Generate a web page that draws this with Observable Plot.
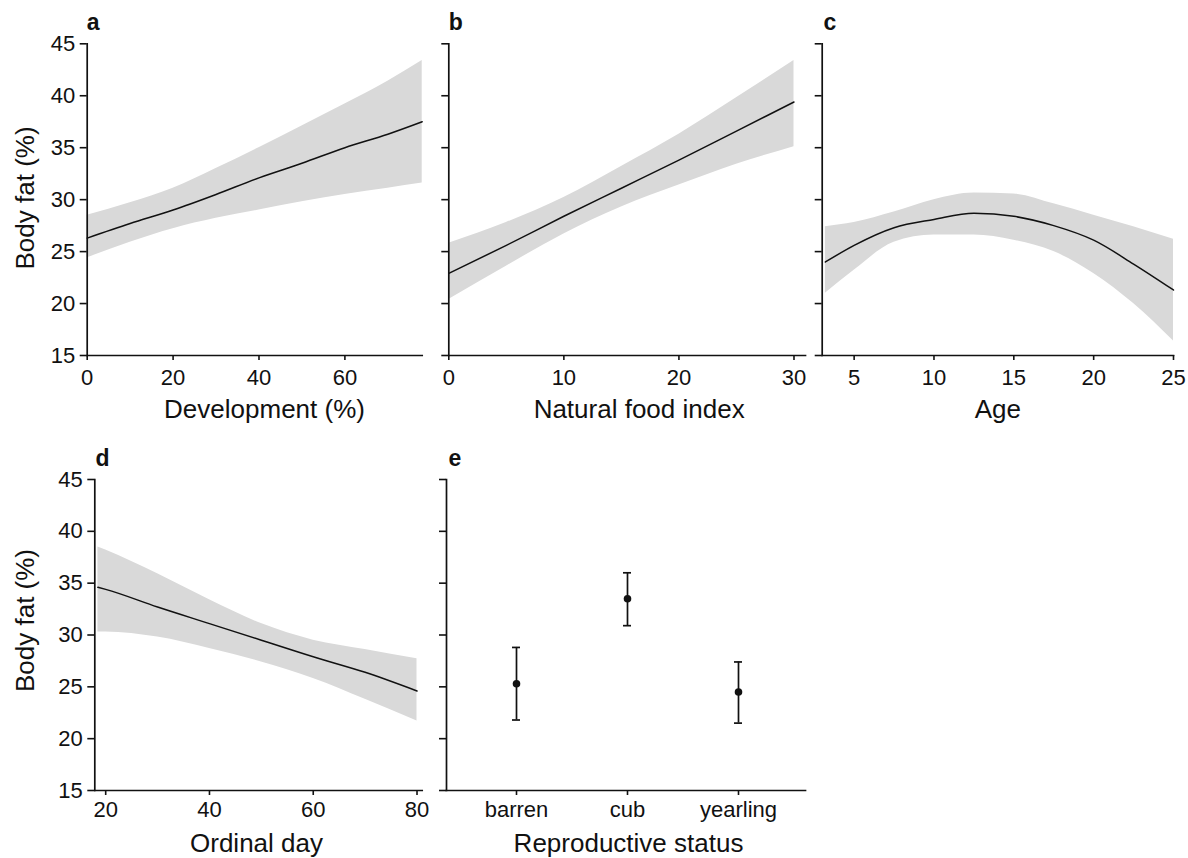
<!DOCTYPE html>
<html><head><meta charset="utf-8">
<script src="https://cdn.jsdelivr.net/npm/d3@7"></script>
<script src="https://cdn.jsdelivr.net/npm/@observablehq/plot@0.6"></script>
<style>
html,body{margin:0;padding:0;background:#fff;}
#fig{position:relative;width:1188px;height:858px;overflow:hidden;background:#fff;}
#fig > svg{position:absolute;}
g[aria-label="title"] text{letter-spacing:0.5px;}
</style></head><body><div id="fig"></div>
<script>
// ---------- data ----------
const yTicks = [15, 20, 25, 30, 35, 40, 45];
const yLabel = "Body fat (%)";

// a: Development (%)
const devX   = [0, 10, 20, 30, 40, 50, 60, 70, 78];
const devFit = [26.3, 27.7, 29.0, 30.5, 32.1, 33.5, 35.0, 36.3, 37.5];
const devLo  = [24.4, 25.9, 27.2, 28.2, 29.0, 29.8, 30.5, 31.1, 31.6];
const devHi  = [28.5, 29.7, 31.1, 33.0, 35.0, 37.1, 39.2, 41.4, 43.4];
const devTicks = [0, 20, 40, 60];

// b: Natural food index
const foodX   = [0, 5, 10, 15, 20, 25, 30];
const foodFit = [22.9, 25.6, 28.4, 31.1, 33.8, 36.6, 39.4];
const foodLo  = [20.4, 23.6, 26.7, 29.3, 31.4, 33.4, 35.1];
const foodHi  = [25.8, 27.8, 30.2, 33.2, 36.3, 39.8, 43.4];
const foodTicks = [0, 10, 20, 30];

// c: Age
const ageX   = [3.2, 5, 7.5, 10, 12.5, 15, 17.5, 20, 22.5, 25];
const ageFit = [24.0, 25.6, 27.3, 28.1, 28.7, 28.4, 27.5, 26.1, 23.8, 21.3];
const ageLo  = [21.0, 23.2, 25.9, 26.6, 26.6, 26.1, 25.0, 22.9, 20.0, 16.4];
const ageHi  = [27.4, 27.8, 28.8, 30.0, 30.65, 30.55, 29.6, 28.5, 27.4, 26.2];
const ageTicks = [5, 10, 15, 20, 25];

// d: Ordinal day
const dayX   = [18.5, 20, 30, 40, 50, 60, 70, 80];
const dayFit = [34.6, 34.4, 32.7, 31.1, 29.5, 27.9, 26.4, 24.6];
const dayLo  = [30.3, 30.3, 29.8, 28.7, 27.4, 25.8, 23.8, 21.7];
const dayHi  = [38.5, 38.2, 35.9, 33.4, 31.1, 29.5, 28.6, 27.7];
const dayTicks = [20, 40, 60, 80];

// e: Reproductive status
const statusCats = ["barren", "cub", "yearling"];
const statusMean = [25.3, 33.5, 24.5];
const statusLo   = [21.8, 30.9, 21.5];
const statusHi   = [28.8, 36.0, 27.4];

// ---------- helpers ----------
const FONT = '"Liberation Sans", Arial, Helvetica, sans-serif';
const BAND = "#d9d9d9";
const INK = "#111";

function toRows(xs, fit, lo, hi) {
  return xs.map((x, i) => ({x, fit: fit[i], lo: lo[i], hi: hi[i]}));
}
function curveMarks(rows) {
  return [
    Plot.areaY(rows, {x: "x", y1: "lo", y2: "hi", fill: BAND, curve: "monotone-x"}),
    Plot.lineY(rows, {x: "x", y: "fit", stroke: INK, strokeWidth: 1.5, curve: "monotone-x"})
  ];
}

function makePanel(cfg) {
  const marks = [
    ...cfg.marks,
    Plot.frame({anchor: "left", stroke: INK, strokeWidth: 1.7}),
    Plot.frame({anchor: "bottom", stroke: INK, strokeWidth: 1.7}),
    Plot.axisY({ticks: yTicks, tickSize: 7, tickPadding: 5, fontSize: 22, strokeWidth: 1.6,
      tickFormat: cfg.yLabels ? (d => String(d)) : (() => ""), label: null}),
    Plot.axisX({ticks: cfg.xTicks, tickSize: 5, tickPadding: cfg.tickPad, fontSize: 22, strokeWidth: 1.6, label: null}),
    Plot.text([cfg.letter], {frameAnchor: "top-left", text: d => d, dx: cfg.letterDx, dy: -21,
      fontSize: 23, fontWeight: "bold", textAnchor: "start", lineAnchor: "middle", fill: INK}),
    Plot.text([cfg.title], {frameAnchor: "bottom", text: d => d, dx: cfg.titleDx, dy: cfg.titleDy,
      fontSize: 26, textAnchor: "middle", lineAnchor: "middle", fill: INK, ariaLabel: "title"})
  ];
  if (cfg.yTitle) {
    marks.push(Plot.text([yLabel], {frameAnchor: "left", text: d => d, rotate: -90,
      dx: cfg.yTitleDx, dy: cfg.yTitleDy, fontSize: 26, textAnchor: "middle", lineAnchor: "middle",
      fill: INK, ariaLabel: "title"}));
  }
  const svg = Plot.plot({
    width: cfg.width, height: cfg.height,
    marginLeft: cfg.mL, marginRight: cfg.mR, marginTop: cfg.mT, marginBottom: cfg.mB,
    x: cfg.x,
    y: {domain: [15, 45]},
    style: {fontFamily: FONT, color: INK, background: "transparent", overflow: "visible"},
    marks
  });
  svg.style.left = cfg.left + "px";
  svg.style.top = cfg.top + "px";
  document.getElementById("fig").append(svg);
}

const TOP = {top: 0, height: 430, mT: 43.3, mB: 75, tickPad: 8.4, titleDy: 53.7};
const BOT = {top: 430, height: 428, mT: 49, mB: 68, tickPad: 6, titleDy: 52.7};

makePanel({...TOP, left: 0, width: 440, mL: 86.7, mR: 18.3,
  x: {domain: [0, 78]}, xTicks: devTicks, yLabels: true, yTitle: true, yTitleDx: -62, yTitleDy: -1.7,
  letter: "a", letterDx: -0.5, title: "Development (%)", titleDx: 9.8,
  marks: curveMarks(toRows(devX, devFit, devLo, devHi))});

makePanel({...TOP, left: 440, width: 372, mL: 8.3, mR: 7,
  x: {domain: [0, 31]}, xTicks: foodTicks, yLabels: false,
  letter: "b", letterDx: 0, title: "Natural food index", titleDx: 12,
  marks: curveMarks(toRows(foodX, foodFit, foodLo, foodHi))});

makePanel({...TOP, left: 812, width: 376, mL: 9.7, mR: 15,
  x: {domain: [3, 25]}, xTicks: ageTicks, yLabels: false,
  letter: "c", letterDx: 1.3, title: "Age", titleDx: 0,
  marks: curveMarks(toRows(ageX, ageFit, ageLo, ageHi))});

makePanel({...BOT, left: 0, width: 440, mL: 94.3, mR: 18.3,
  x: {domain: [17.9, 81]}, xTicks: dayTicks, yLabels: true, yTitle: true, yTitleDx: -69.6, yTitleDy: -14.5,
  letter: "d", letterDx: 0.7, title: "Ordinal day", titleDx: -2,
  marks: curveMarks(toRows(dayX, dayFit, dayLo, dayHi))});

const statusRows = statusCats.map((c, i) => ({cat: c, mean: statusMean[i], lo: statusLo[i], hi: statusHi[i]}));
makePanel({...BOT, left: 440, width: 372, mL: 6, mR: 7,
  x: {type: "band", domain: statusCats, paddingInner: 0.928, paddingOuter: 0.5717, align: 0.515},
  xTicks: undefined, yLabels: false,
  letter: "e", letterDx: 2, title: "Reproductive status", titleDx: 2.5,
  marks: [
    Plot.ruleX(statusRows, {x: "cat", y1: "lo", y2: "hi", stroke: INK, strokeWidth: 1.7}),
    Plot.tickY(statusRows, {x: "cat", y: "lo", stroke: INK, strokeWidth: 1.7}),
    Plot.tickY(statusRows, {x: "cat", y: "hi", stroke: INK, strokeWidth: 1.7}),
    Plot.dot(statusRows, {x: "cat", y: "mean", r: 3.8, fill: INK})
  ]});
</script>
</body></html>
